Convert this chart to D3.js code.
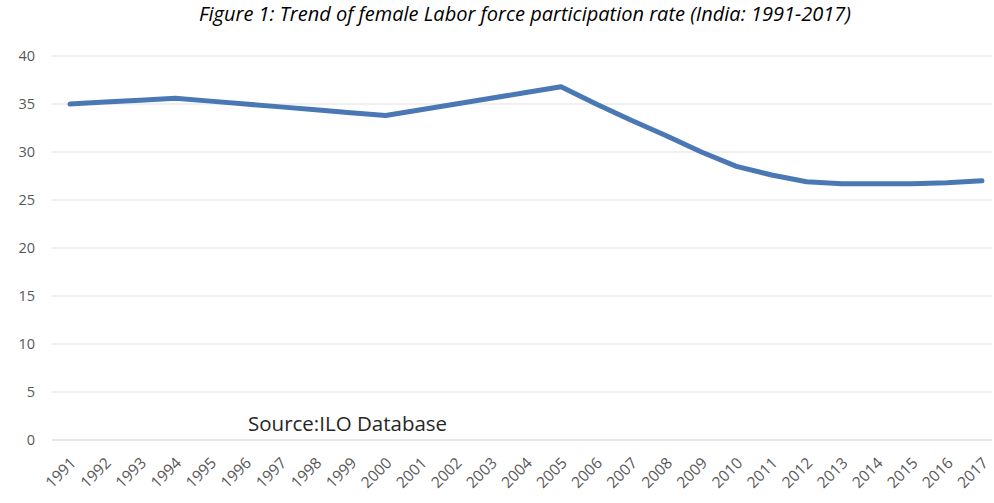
<!DOCTYPE html>
<html>
<head>
<meta charset="utf-8">
<script src="https://cdn.jsdelivr.net/npm/d3@7"></script>
<style>
    body { margin: 0; background: #fff; }
    text { font-family: "Open Sans", "Liberation Sans", sans-serif; }
</style>
</head>
<body>
<div id="chart"></div>
<script>
var years = ["1991", "1992", "1993", "1994", "1995", "1996", "1997", "1998", "1999", "2000",
    "2001", "2002", "2003", "2004", "2005", "2006", "2007", "2008", "2009", "2010",
    "2011", "2012", "2013", "2014", "2015", "2016", "2017"];
var rate = [35.0, 35.2, 35.4, 35.6, 35.3, 35.0, 34.7, 34.4, 34.1, 33.8,
    34.4, 35.0, 35.6, 36.2, 36.8, 35.0, 33.3, 31.7, 30.0, 28.5,
    27.6, 26.9, 26.7, 26.7, 26.7, 26.8, 27.0];
var yTicks = [0, 5, 10, 15, 20, 25, 30, 35, 40];

var width = 994,
    height = 503,
    margin = { top: 56, left: 52, right: 2, bottom: 63 };

var svg = d3.select("#chart")
    .append("svg")
    .attr("width", width)
    .attr("height", height);

var x = d3.scalePoint()
    .domain(years)
    .range([70, 982]);

var y = d3.scaleLinear()
    .domain([0, 40])
    .range([height - margin.bottom, margin.top]);

// gridlines
svg.append("g")
    .selectAll("line")
    .data(yTicks)
    .enter().append("line")
    .attr("x1", margin.left)
    .attr("x2", width - margin.right)
    .attr("y1", d => y(d))
    .attr("y2", d => y(d))
    .attr("stroke", d => d === 0 ? "#cfcfcf" : "#e0e0e0")
    .attr("stroke-width", 1);

// y labels
svg.append("g")
    .selectAll("text")
    .data(yTicks)
    .enter().append("text")
    .attr("x", 35)
    .attr("y", d => y(d) + 5)
    .attr("text-anchor", "end")
    .attr("fill", "#595959")
    .style("font-size", "14.5px")
    .text(d => d);

// x labels
svg.append("g")
    .selectAll("text")
    .data(years)
    .enter().append("text")
    .attr("transform", d => "translate(" + (x(d) + 7) + "," + 464 + ") rotate(-45)")
    .attr("text-anchor", "end")
    .attr("fill", "#595959")
    .style("font-size", "15.5px")
    .text(d => d);

// line
var line = d3.line()
    .x((d, i) => x(years[i]))
    .y(d => y(d));

svg.append("path")
    .datum(rate)
    .attr("d", line)
    .attr("fill", "none")
    .attr("stroke", "#4a78b5")
    .attr("stroke-width", 5)
    .attr("stroke-linecap", "round")
    .attr("stroke-linejoin", "round");

// title
svg.append("text")
    .attr("x", 525)
    .attr("y", 21)
    .attr("text-anchor", "middle")
    .attr("fill", "#000")
    .style("font-size", "20px")
    .style("font-style", "italic")
    .text("Figure 1: Trend of female Labor force participation rate (India: 1991-2017)");

svg.append("text")
    .attr("x", 248)
    .attr("y", 431)
    .attr("fill", "#262626")
    .style("font-size", "20.5px")
    .text("Source:ILO Database");
</script>
</body>
</html>
